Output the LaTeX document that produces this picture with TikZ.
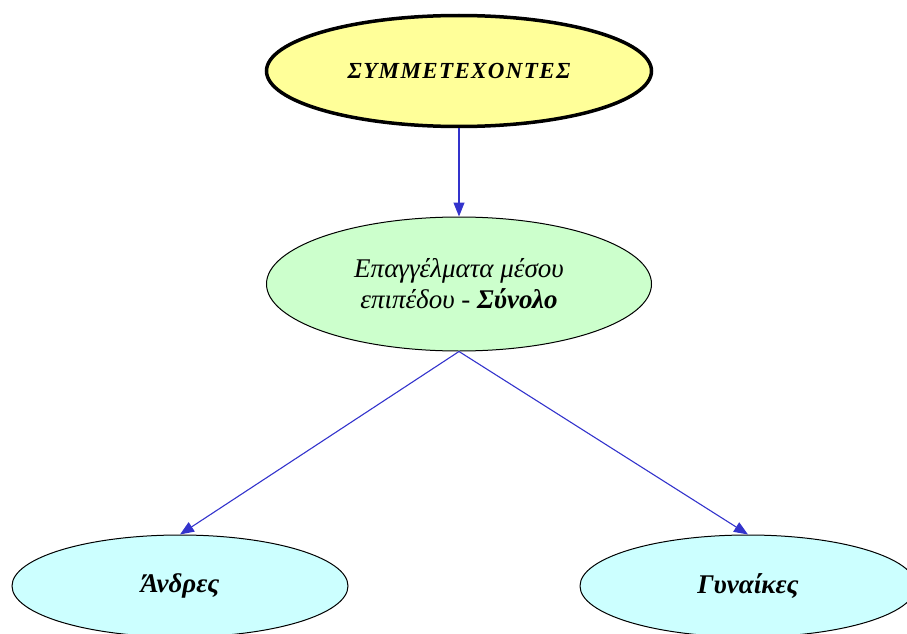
\documentclass[tikz,border=0pt]{standalone}
\usepackage{fontspec}
\setmainfont{Liberation Serif}
\usetikzlibrary{arrows.meta, positioning, shapes.geometric}
\definecolor{topfill}{HTML}{FFFF99}
\definecolor{midfill}{HTML}{CCFFCC}
\definecolor{leaffill}{HTML}{CCFFFF}
\definecolor{linkblue}{HTML}{3333CC}
\tikzset{
  groupnode/.style={ellipse, draw=black, line width=1pt, inner sep=0pt,
                    align=center, font=\fontsize{27}{31}\selectfont\itshape},
  rootnode/.style={groupnode, fill=topfill, line width=3.5pt,
                   minimum width=385pt, minimum height=111pt,
                   font=\fontsize{23}{27}\selectfont\itshape\addfontfeatures{LetterSpace=6}},
  totalnode/.style={groupnode, fill=midfill,
                    minimum width=385pt, minimum height=134pt},
  leafnode/.style={groupnode, fill=leaffill,
                   minimum width=336pt, minimum height=102pt},
  link/.style={draw=linkblue, line width=1.1pt,
               -{Triangle[length=14pt, width=11pt]}},
}
\begin{document}
\begin{tikzpicture}[x=1pt, y=-1pt]
  \useasboundingbox (0,0) rectangle (907,634);
  \node[rootnode] (root) at (459,71) {\textbf{ΣΥΜΜΕΤΕΧΟΝΤΕΣ}};
  \node[totalnode] (total) at (459,284)
    {Επαγγέλματα μέσου\\επιπέδου - \textbf{Σύνολο}};
  \node[leafnode] (men) at (180,586) {\textbf{Άνδρες}};
  \node[leafnode] (women) at (748,586) {\textbf{Γυναίκες}};
  \draw[link] (root) -- (total);
  \draw[link] (total.south) -- (men.north);
  \draw[link] (total.south) -- (women.north);
\end{tikzpicture}
\end{document}
